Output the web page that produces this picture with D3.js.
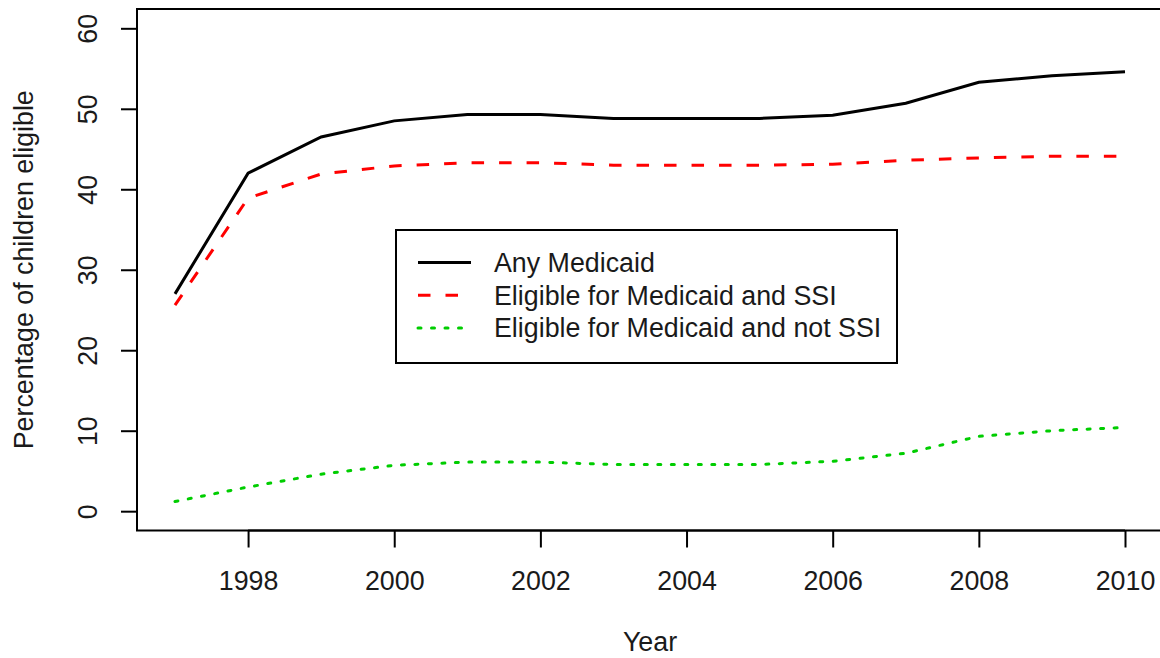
<!DOCTYPE html>
<html>
<head>
<meta charset="utf-8">
<script src="https://cdn.jsdelivr.net/npm/d3@7"></script>
<style>
  html, body { margin: 0; padding: 0; background: #fff; }
  svg { display: block; font-family: "Liberation Sans", Arial, sans-serif; }
</style>
</head>
<body>
<svg id="chart" width="1160" height="658"></svg>
<script>
// Medicaid eligibility of children, 1997-2010
const years = [1997, 1998, 1999, 2000, 2001, 2002, 2003, 2004, 2005, 2006, 2007, 2008, 2009, 2010];
const anyMedicaid    = [27.0, 42.0, 46.5, 48.5, 49.3, 49.3, 48.8, 48.8, 48.8, 49.2, 50.7, 53.3, 54.1, 54.6];
const medicaidSSI    = [25.6, 38.9, 41.9, 42.9, 43.3, 43.3, 43.0, 43.0, 43.0, 43.1, 43.6, 43.9, 44.1, 44.1];
const medicaidNotSSI = [1.2, 3.0, 4.6, 5.7, 6.1, 6.1, 5.8, 5.8, 5.8, 6.2, 7.2, 9.3, 10.0, 10.4];

const xTicks = [1998, 2000, 2002, 2004, 2006, 2008, 2010];
const yTicks = [0, 10, 20, 30, 40, 50, 60];

const seriesNames = ["Any Medicaid", "Eligible for Medicaid and SSI", "Eligible for Medicaid and not SSI"];
const seriesColors = ["#000000", "#ff0000", "#00cd00"];
const seriesDash = [null, "12.5,15", "3,10.5"];
const seriesValues = [anyMedicaid, medicaidSSI, medicaidNotSSI];

const fontSize = 26.8;
const textColor = "#1a1a1a";

const svg = d3.select("#chart");
const plotLeft = 137, plotRight = 1163, plotTop = 9, plotBottom = 530.5;

// R-style 4% padding around the data range
const xPad = (2010 - 1997) * 0.04;
const x = d3.scaleLinear().domain([1997 - xPad, 2010 + xPad]).range([plotLeft, plotRight]);
const y = d3.scaleLinear().domain([-2.4, 62.4]).range([plotBottom, plotTop]);

// frame
svg.append("rect")
  .attr("x", plotLeft).attr("y", plotTop)
  .attr("width", plotRight - plotLeft).attr("height", plotBottom - plotTop)
  .attr("fill", "none").attr("stroke", "#000").attr("stroke-width", 2);

// x axis
const xAxis = svg.append("g").attr("transform", `translate(0,${plotBottom})`)
  .call(d3.axisBottom(x).tickValues(xTicks).tickFormat(d3.format("d")).tickSize(17).tickPadding(23.5));
xAxis.select(".domain").attr("d", `M${x(1998)},0H${x(2010)}`).attr("stroke-width", 2);
xAxis.selectAll(".tick line").attr("stroke-width", 2);
xAxis.selectAll(".tick text").attr("font-size", fontSize).attr("fill", textColor)
  .attr("font-family", "Liberation Sans, Arial, sans-serif");

// y axis with rotated labels
const yAxis = svg.append("g").attr("transform", `translate(${plotLeft},0)`)
  .call(d3.axisLeft(y).tickValues(yTicks).tickSize(16).tickFormat(d3.format("d")));
yAxis.select(".domain").attr("d", `M0,${y(0)}V${y(60)}`).attr("stroke-width", 2);
yAxis.selectAll(".tick line").attr("stroke-width", 2);
yAxis.selectAll(".tick text")
  .attr("x", null).attr("dy", null)
  .attr("transform", "translate(-40,0) rotate(-90)")
  .attr("text-anchor", "middle")
  .attr("font-size", fontSize).attr("fill", textColor)
  .attr("font-family", "Liberation Sans, Arial, sans-serif");

// axis titles
svg.append("text").attr("x", (plotLeft + plotRight) / 2).attr("y", 651)
  .attr("text-anchor", "middle").attr("font-size", fontSize).attr("fill", textColor)
  .text("Year");
svg.append("text")
  .attr("transform", `translate(33,${(plotTop + plotBottom) / 2}) rotate(-90)`)
  .attr("text-anchor", "middle").attr("font-size", fontSize).attr("fill", textColor)
  .text("Percentage of children eligible");

// series lines
const line = d3.line().x((d, i) => x(years[i])).y(d => y(d));
seriesValues.forEach((vals, k) => {
  svg.append("path").datum(vals)
    .attr("d", line)
    .attr("fill", "none")
    .attr("stroke", seriesColors[k])
    .attr("stroke-width", 3)
    .attr("stroke-dasharray", seriesDash[k])
    .attr("stroke-linecap", k === 2 ? "round" : "butt");
});

// legend
const lg = svg.append("g");
lg.append("rect").attr("x", 396).attr("y", 230).attr("width", 501).attr("height", 133)
  .attr("fill", "#fff").attr("stroke", "#000").attr("stroke-width", 2);
seriesNames.forEach((name, k) => {
  const cy = 262.5 + k * 32.8;
  lg.append("line").attr("x1", 418).attr("x2", 471).attr("y1", cy).attr("y2", cy)
    .attr("stroke", seriesColors[k]).attr("stroke-width", 3)
    .attr("stroke-dasharray", seriesDash[k])
    .attr("stroke-linecap", k === 2 ? "round" : "butt");
  lg.append("text").attr("x", 494).attr("y", cy).attr("dy", "0.35em")
    .attr("font-size", fontSize).attr("fill", textColor).text(name);
});
</script>
</body>
</html>
